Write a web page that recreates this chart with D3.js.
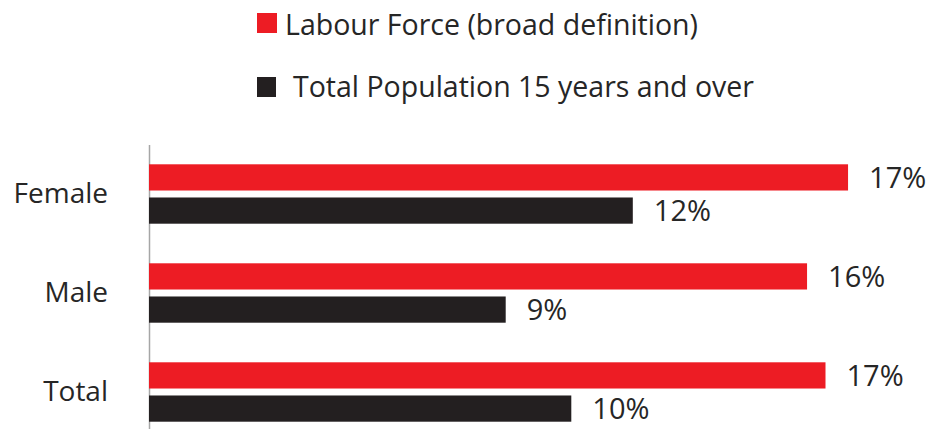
<!DOCTYPE html>
<meta charset="utf-8">
<script src="https://cdn.jsdelivr.net/npm/d3@7"></script>
<style>
  body { margin: 0; background: #fff; }
  text { font-family: "Open Sans", sans-serif; fill: #262626; }
</style>
<div id="my_dataviz"></div>
<script>

// data (percent)
var categories = ["Female", "Male", "Total"];
var seriesNames = ["Labour Force (broad definition)", "Total Population 15 years and over"];
var labourForce = [17.05, 16.05, 16.5];
var population15 = [11.8, 8.7, 10.3];
var colors = ["#ed1c24", "#231f20"];

var width = 928, height = 429;

var svg = d3.select("#my_dataviz")
  .append("svg")
    .attr("width", width)
    .attr("height", height);

// legend
var legend = svg.selectAll(".legend")
  .data(seriesNames)
  .enter().append("g")
    .attr("class", "legend")
    .attr("transform", function(d, i) { return "translate(257," + (i === 0 ? 13 : 77) + ")"; });
legend.append("rect")
  .attr("width", function(d, i) { return i === 0 ? 20 : 19; })
  .attr("height", 20)
  .attr("fill", function(d, i) { return colors[i]; });
legend.append("text")
  .attr("x", function(d, i) { return i === 0 ? 28 : 36; })
  .attr("y", function(d, i) { return i === 0 ? 12 : 10; })
  .attr("dy", "0.35em")
  .style("font-size", "28.5px")
  .text(function(d) { return d; });

// scales
var x = d3.scaleLinear()
  .domain([0, 18])
  .range([149, 149 + 18 * 41]);

var y = d3.scaleBand()
  .domain(categories)
  .range([144.5, 441.5])
  .paddingInner(0.4)
  .paddingOuter(0.2);

var ySub = d3.scaleBand()
  .domain([0, 1])
  .range([0, y.bandwidth()])
  .paddingInner(0.21);

// category axis
var yAxis = svg.append("g")
  .attr("transform", "translate(149,0)")
  .call(d3.axisLeft(y).tickSize(0).tickPadding(41));
yAxis.select(".domain").attr("stroke", "#a6a6a6").attr("stroke-width", 1.5);
yAxis.selectAll("text")
  .style("font-size", "28px")
  .attr("fill", "#262626")
  .style("font-family", "Open Sans, sans-serif");

var rows = [];
categories.forEach(function(c, i) {
  rows.push({cat: c, s: 0, v: labourForce[i]});
  rows.push({cat: c, s: 1, v: population15[i]});
});

svg.selectAll(".bar")
  .data(rows)
  .enter().append("rect")
    .attr("class", "bar")
    .attr("x", x(0))
    .attr("y", function(d) { return y(d.cat) + ySub(d.s); })
    .attr("width", function(d) { return x(d.v) - x(0); })
    .attr("height", ySub.bandwidth())
    .attr("fill", function(d) { return colors[d.s]; });

svg.selectAll(".lbl")
  .data(rows)
  .enter().append("text")
    .attr("class", "lbl")
    .attr("x", function(d) { return x(d.v) + 21; })
    .attr("y", function(d) { return y(d.cat) + ySub(d.s) + ySub.bandwidth() / 2; })
    .attr("dy", "0.35em")
    .style("font-size", "29px")
    .text(function(d) { return d3.format(".0f")(d.v) + "%"; });

</script>
